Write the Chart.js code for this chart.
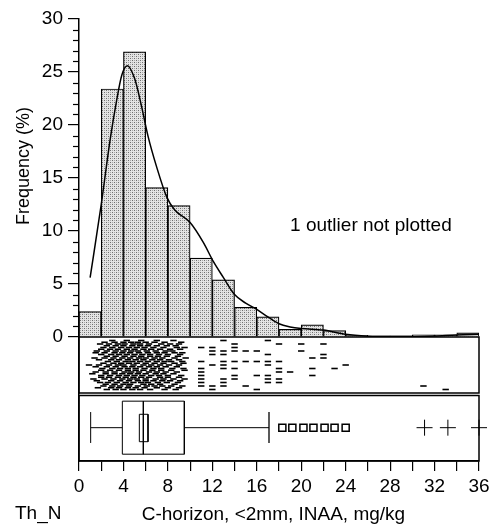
<!DOCTYPE html>
<html>
<head>
<meta charset="utf-8">
<script src="https://cdn.jsdelivr.net/npm/chart.js@4.4.1/dist/chart.umd.min.js"></script>
<style>
  html, body { margin: 0; padding: 0; background: #fff; }
  #wrap { width: 496px; height: 525px; }
</style>
</head>
<body>
<div id="wrap"><canvas id="chart" width="496" height="525"></canvas></div>
<script>
// histogram, 2 mg/kg bins
const binStarts = [0, 2, 4, 6, 8, 10, 12, 14, 16, 18, 20, 22, 24, 26, 28, 30, 32, 34]
const binFreq = [2.4, 23.4, 26.9, 14.1, 12.4, 7.45, 5.4, 2.8, 1.9, 0.73, 1.14, 0.6, 0.15, 0.1, 0.1, 0.2, 0.2, 0.4]

// density curve
const densX = [1.0, 2.0, 2.8, 3.4, 3.85, 4.35, 5.0, 5.6, 6.2, 7.0, 7.9, 8.6, 10.0, 11.2, 12.1, 13.0, 14.0, 15.0, 16.0, 17.0, 18.0, 19.0, 20.0, 22.0, 24.0, 26.0, 28.0, 30.0, 32.0, 34.0, 36.0]
const densY = [5.6, 12.5, 18.6, 22.4, 24.7, 25.6, 24.4, 21.9, 19.0, 16.0, 13.2, 12.0, 10.8, 8.9, 7.1, 5.6, 4.0, 3.2, 2.6, 1.9, 1.25, 0.95, 0.8, 0.65, 0.25, 0.08, 0.04, 0.05, 0.1, 0.2, 0.25]

// rug strip: one row per half jitter level (first row = level 1, bottom), x values in mg/kg
const rugRows = [
    [2.5, 3.3, 4.0, 4.8, 5.5, 6.4, 7.7, 8.7, 12, 16, 33],
    [1.7, 2.9, 3.6, 4.4, 5.1, 5.9, 7.0, 8.0, 9.0],
    [2.2, 3.0, 3.7, 4.5, 5.3, 6.1, 6.8, 7.5, 8.3, 9.3, 11, 12, 13, 15, 31],
    [2.4, 3.2, 4.0, 4.6, 5.8, 6.5, 7.3, 8.6],
    [1.9, 2.6, 3.4, 4.2, 4.9, 5.6, 6.2, 7.1, 7.9, 8.9, 11, 13, 17, 18],
    [1.6, 2.9, 3.7, 4.5, 5.3, 6.0, 6.7, 7.5, 8.2, 9.1],
    [1.3, 2.3, 3.1, 3.9, 4.6, 5.2, 6.0, 6.9, 7.6, 8.5, 9.5, 11, 13, 14, 17, 18],
    [2.0, 2.7, 3.5, 4.2, 4.9, 5.6, 6.3, 7.3, 8.0, 9.0],
    [2.0, 2.8, 3.6, 4.3, 5.0, 5.7, 6.5, 7.2, 8.0, 9.2, 11, 14, 16, 17, 21],
    [1.2, 2.4, 3.2, 3.9, 4.6, 5.3, 6.0, 6.9, 7.6, 8.5],
    [1.5, 2.4, 3.2, 4.1, 4.7, 5.4, 6.3, 7.0, 7.8, 8.8, 11, 18, 19],
    [2.0, 2.8, 3.6, 4.4, 5.1, 5.8, 6.6, 7.4, 8.3, 9.5],
    [2.1, 3.0, 3.7, 4.4, 5.1, 5.9, 6.7, 7.4, 8.4, 9.4, 11, 13, 14, 18, 21, 23],
    [1.5, 2.5, 3.3, 4.1, 4.8, 5.5, 6.3, 7.0, 7.8, 8.8],
    [0.9, 1.8, 2.7, 3.5, 4.0, 4.9, 5.8, 6.5, 7.3, 8.1, 9.0, 12, 13, 17, 24],
    [2.2, 3.1, 3.8, 4.5, 5.2, 6.0, 6.8, 7.6, 8.6, 9.4],
    [2.6, 3.4, 4.2, 4.8, 5.5, 6.2, 7.0, 7.7, 8.3, 9.3, 11, 13, 14, 15, 16, 17, 18],
    [1.8, 2.9, 3.6, 4.4, 5.1, 5.8, 6.6, 7.3, 8.1, 9.0],
    [1.4, 2.3, 3.1, 3.9, 4.6, 5.4, 6.0, 6.8, 7.5, 8.6, 9.6, 21, 22],
    [2.5, 3.3, 4.1, 4.9, 5.6, 6.4, 7.1, 7.9, 8.9],
    [2.0, 2.9, 3.6, 4.3, 5.0, 5.7, 6.4, 7.2, 8.0, 9.1, 12, 13, 17, 22],
    [1.5, 2.3, 3.2, 3.9, 4.6, 5.4, 6.2, 7.0, 7.7, 8.6, 9.3],
    [1.6, 2.5, 3.3, 4.0, 4.7, 5.3, 6.1, 6.9, 7.8, 8.4, 12, 13, 14, 15, 16, 20],
    [2.0, 2.8, 3.5, 4.3, 5.0, 5.8, 6.5, 7.3, 8.2, 9.1],
    [2.2, 3.0, 3.8, 4.5, 5.2, 5.9, 6.7, 7.6, 8.8, 9.5, 11, 12, 14],
    [2.5, 3.3, 4.0, 4.8, 5.5, 6.2, 7.0, 7.9, 8.7],
    [1.9, 2.7, 3.5, 4.1, 4.9, 5.5, 6.3, 7.4, 8.2, 9.0, 14, 18, 20, 22],
    [2.3, 3.2, 4.0, 4.7, 5.3, 6.0, 6.8, 7.7, 9.2],
    [3.0, 4.3, 5.6, 7.0, 8.5, 13, 17]
]

// boxplot: lower whisker, Q1, notch low, median, notch high, Q3, upper whisker
const boxStats = [1.05, 3.9, 5.43, 5.79, 6.21, 9.48, 17.1]
const nearOutliers = [18.3, 19.2, 20.2, 21.1, 22.1, 23.0, 24.0]
const farOutliers = [31.1, 33.2, 36.0]

const FONT = 'Liberation Sans, Arial, Helvetica, sans-serif'

const ctx = document.getElementById('chart').getContext('2d')

function stipple() {
    const c = document.createElement('canvas')
    c.width = 4
    c.height = 4
    const g = c.getContext('2d')
    g.fillStyle = '#e4e4e4'
    g.fillRect(0, 0, 4, 4)
    g.fillStyle = '#6e6e6e'
    g.fillRect(0, 0, 1, 1)
    g.fillRect(2, 2, 1, 1)
    g.fillStyle = '#a8a8a8'
    g.fillRect(2, 0, 1, 1)
    g.fillRect(0, 2, 1, 1)
    return ctx.createPattern(c, 'repeat')
}

// box panel geometry in yBox units (0..1)
const MID = 0.49, BOX_TOP = 0.88, BOX_BOT = 0.1, CAP_TOP = 0.72, CAP_BOT = 0.265, NOTCH_TOP = 0.687, NOTCH_BOT = 0.284

function seg(points, width) {
    return {
        type: 'line',
        yAxisID: 'yBox',
        data: points.map(p => ({ x: p[0], y: p[1] })),
        borderColor: '#000',
        borderWidth: width || 1,
        pointRadius: 0,
        tension: 0,
        fill: false
    }
}

const [lo, q1, nLo, med, nHi, q3, hi] = boxStats

const rugPoints = []
rugRows.forEach((row, i) => row.forEach(v => rugPoints.push({ x: v, y: 1 + i * 0.5 })))

const minorTicks = {
    id: 'minorTicks',
    afterDraw(chart) {
        const { ctx, scales: { y } } = chart
        ctx.save()
        ctx.strokeStyle = '#000'
        ctx.lineWidth = 1.2
        for (let v = 0; v <= 30; v++) {
            if (v % 5 === 0) continue
            const py = Math.round(y.getPixelForValue(v)) + 0.5
            ctx.beginPath()
            ctx.moveTo(y.right - 6, py)
            ctx.lineTo(y.right, py)
            ctx.stroke()
        }
        ctx.restore()
    }
}

const panels = {
    id: 'panels',
    afterDatasetsDraw(chart) {
        const { ctx, scales: { x, yRug, yBox } } = chart
        ctx.save()
        ctx.strokeStyle = '#000'
        ctx.lineWidth = 1.5
        ctx.strokeRect(x.left, yRug.top, x.right - x.left, yRug.bottom - yRug.top)
        ctx.strokeRect(x.left, yBox.top + 2.5, x.right - x.left, yBox.bottom - yBox.top - 2.5)
        ctx.restore()
    }
}

const labels = {
    id: 'labels',
    afterDraw(chart) {
        const { ctx, scales: { x, y } } = chart
        ctx.save()
        ctx.fillStyle = '#000'
        ctx.font = '19px ' + FONT
        ctx.textBaseline = 'alphabetic'
        ctx.textAlign = 'left'
        ctx.fillText('1 outlier not plotted', x.getPixelForValue(19), y.getPixelForValue(10))
        ctx.fillText('Th_N', 15, 519)
        ctx.textAlign = 'center'
        ctx.fillText('C-horizon, <2mm, INAA, mg/kg', x.getPixelForValue(17.5), 520)
        ctx.translate(24, 166)
        ctx.rotate(-Math.PI / 2)
        ctx.font = '18px ' + FONT
        ctx.textBaseline = 'middle'
        ctx.fillText('Frequency (%)', 0, 0)
        ctx.restore()
    }
}

new Chart(ctx, {
    type: 'bar',
    data: {
        datasets: [
            {
                type: 'line',
                data: densX.map((v, i) => ({ x: v, y: densY[i] })),
                yAxisID: 'y',
                borderColor: '#000',
                borderWidth: 1.5,
                pointRadius: 0,
                cubicInterpolationMode: 'monotone',
                order: 1
            },
            {
                type: 'bar',
                data: binStarts.map((s, i) => ({ x: s + 1, y: binFreq[i] })),
                yAxisID: 'y',
                backgroundColor: stipple(),
                borderColor: '#000',
                borderWidth: 1.2,
                barPercentage: 1,
                categoryPercentage: 1,
                order: 2
            },
            {
                type: 'scatter',
                data: rugPoints,
                yAxisID: 'yRug',
                pointStyle: 'line',
                pointRadius: 3.2,
                borderColor: '#000',
                borderWidth: 1.6,
                order: 3
            },
            seg([[lo, MID], [q1, MID]]),
            seg([[q3, MID], [hi, MID]]),
            seg([[lo, CAP_BOT], [lo, CAP_TOP]]),
            seg([[hi, CAP_BOT], [hi, CAP_TOP]], 1.3),
            seg([[q1, BOX_TOP], [q3, BOX_TOP], [q3, BOX_BOT], [q1, BOX_BOT], [q1, BOX_TOP]]),
            seg([[nLo, NOTCH_TOP], [nHi, NOTCH_TOP], [nHi, NOTCH_BOT], [nLo, NOTCH_BOT], [nLo, NOTCH_TOP]]),
            seg([[med, BOX_TOP], [med, BOX_BOT]]),
            {
                type: 'scatter',
                data: nearOutliers.map(v => ({ x: v, y: MID })),
                yAxisID: 'yBox',
                pointStyle: 'rect',
                pointRadius: 5,
                backgroundColor: '#fff',
                borderColor: '#000',
                borderWidth: 1.5
            },
            {
                type: 'scatter',
                data: farOutliers.map(v => ({ x: v, y: MID })),
                yAxisID: 'yBox',
                pointStyle: 'cross',
                pointRadius: 8,
                borderColor: '#000',
                borderWidth: 1,
                clip: false
            }
        ]
    },
    options: {
        responsive: false,
        animation: false,
        layout: { padding: { top: 19, right: 17, left: 0, bottom: 0 } },
        plugins: { legend: { display: false }, tooltip: { enabled: false } },
        scales: {
            x: {
                type: 'linear',
                position: 'bottom',
                min: 0,
                max: 36,
                offset: false,
                grid: { offset: false, drawOnChartArea: false, tickLength: 10, color: '#000', lineWidth: 1.2 },
                border: { display: true, color: '#000', width: 1.5 },
                ticks: {
                    stepSize: 2,
                    autoSkip: false,
                    maxRotation: 0,
                    padding: 4,
                    color: '#000',
                    font: { family: FONT, size: 19 },
                    callback: v => (v % 4 === 0 ? v : '')
                },
                afterFit: s => { s.height = 64 }
            },
            // stacked left axes are laid out bottom-up in this order
            yBox: {
                type: 'linear',
                position: 'left',
                stack: 'left',
                stackWeight: 68,
                min: 0,
                max: 1,
                grid: { display: false },
                ticks: { display: false },
                border: { display: true, color: '#000', width: 1.5 }
            },
            yRug: {
                type: 'linear',
                position: 'left',
                stack: 'left',
                stackWeight: 56,
                min: 0,
                max: 16,
                grid: { display: false },
                ticks: { display: false },
                border: { display: true, color: '#000', width: 1.5 }
            },
            y: {
                type: 'linear',
                position: 'left',
                stack: 'left',
                stackWeight: 318,
                min: 0,
                max: 30,
                grid: {
                    drawOnChartArea: false,
                    tickLength: 11,
                    lineWidth: 1.2,
                    tickColor: c => (c.tick && c.tick.value % 5 === 0 ? '#000' : 'rgba(0,0,0,0)')
                },
                border: { display: true, color: '#000', width: 1.5 },
                ticks: {
                    stepSize: 1,
                    autoSkip: false,
                    padding: 5,
                    color: '#000',
                    font: { family: FONT, size: 19 },
                    callback: v => (v % 5 === 0 ? v : '')
                },
                afterFit: s => { s.width = 79 }
            }
        }
    },
    plugins: [minorTicks, panels, labels]
})
</script>
</body>
</html>
